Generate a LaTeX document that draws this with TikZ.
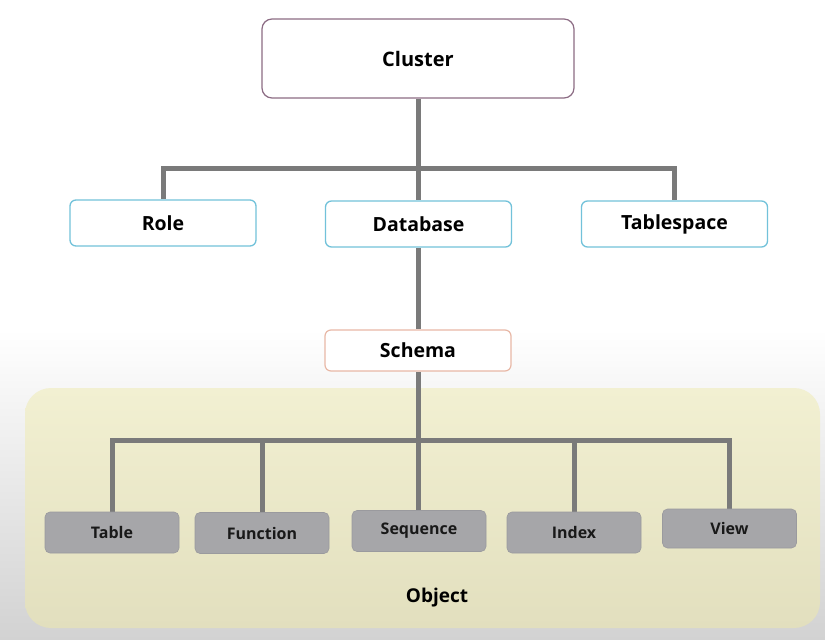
\documentclass[tikz,border=0pt]{standalone}
\usepackage{fontspec}
\setmainfont{Open Sans}
\usetikzlibrary{positioning}
\pgfdeclarelayer{background}
\pgfsetlayers{background,main}
\definecolor{clborder}{HTML}{8C6C84}
\definecolor{blueborder}{HTML}{72C2DA}
\definecolor{salmon}{HTML}{E8B8A6}
\definecolor{connector}{HTML}{7A7A7A}
\definecolor{objfill}{HTML}{A6A6A9}
\definecolor{objborder}{HTML}{9A9A9E}
\definecolor{yellowtop}{HTML}{F2F0D2}
\definecolor{yellowbot}{HTML}{E2DFBE}
\definecolor{bggray}{HTML}{D2D2D2}
\tikzset{
  topbox/.style={draw=clborder, line width=1.2pt, fill=white, rounded corners=10pt,
    minimum width=312pt, minimum height=79pt, inner sep=0pt, font=\fontsize{20}{23}\selectfont\bfseries},
  midbox/.style={draw=blueborder, line width=1.3pt, fill=white, rounded corners=6pt,
    minimum width=186pt, minimum height=46pt, inner sep=0pt, font=\fontsize{19.5}{22}\selectfont\bfseries},
  schemabox/.style={draw=salmon, line width=1.2pt, fill=white, rounded corners=6pt,
    minimum width=186pt, minimum height=41pt, inner sep=0pt, font=\fontsize{19.5}{22}\selectfont\bfseries},
  objbox/.style={draw=objborder, line width=0.6pt, fill=objfill, rounded corners=5pt,
    minimum width=134pt, minimum height=41pt, inner sep=0pt, text=black!90,
    font=\fontsize{16}{19}\selectfont\bfseries},
  conn/.style={draw=connector, line width=5pt},
}
\begin{document}
\begin{tikzpicture}[x=1pt, y=-1pt]
\useasboundingbox (0,0) rectangle (825,640);
\begin{pgfonlayer}{background}
% background
\fill[white] (0,0) rectangle (825,330);
\shade[top color=white, bottom color=bggray] (0,329) rectangle (825,640);
% Object region
\shade[top color=yellowtop, bottom color=yellowbot, rounded corners=26pt] (25,388) rectangle (820,628);
\end{pgfonlayer}
\node (objlabel) at (437,598) {\fontsize{19}{22}\selectfont\bfseries Object};

% nodes
\node[topbox] (cluster) at (418,58.5) {Cluster};
\node[midbox] (role) at (163,223) {Role};
\node[midbox] (database) at (418.5,224) {Database};
\node[midbox] (tablespace) at (674.5,224) {Tablespace};
\node[schemabox] (schema) at (418,350.5) {Schema};

\node[objbox] (table) at (112,532.5) {Table};
\node[objbox] (function) at (262,533) {Function};
\node[objbox] (sequence) at (419,531) {Sequence};
\node[objbox] (index) at (574,532.5) {Index};
\node[objbox, minimum height=39pt] (view) at (729.5,528.5) {View};

% coordinates for bars
\coordinate (bar1) at (418,168);
\coordinate (bar2) at (418,440);

% connectors (behind boxes)
\begin{pgfonlayer}{background}
\draw[conn] (cluster.south) -- (cluster.south |- database.north);
\draw[conn] (role.north) |- (bar1) -| (tablespace.north);
\draw[conn] (database.south) -- (database.south |- schema.north);
\draw[conn] (schema.south) -- (schema.south |- sequence.north);
\draw[conn] (table.north) |- (bar2) -| (view.north);
\draw[conn] (function.north) -- (function.north |- bar2);
\draw[conn] (index.north) -- (index.north |- bar2);
\end{pgfonlayer}
\end{tikzpicture}
\end{document}
